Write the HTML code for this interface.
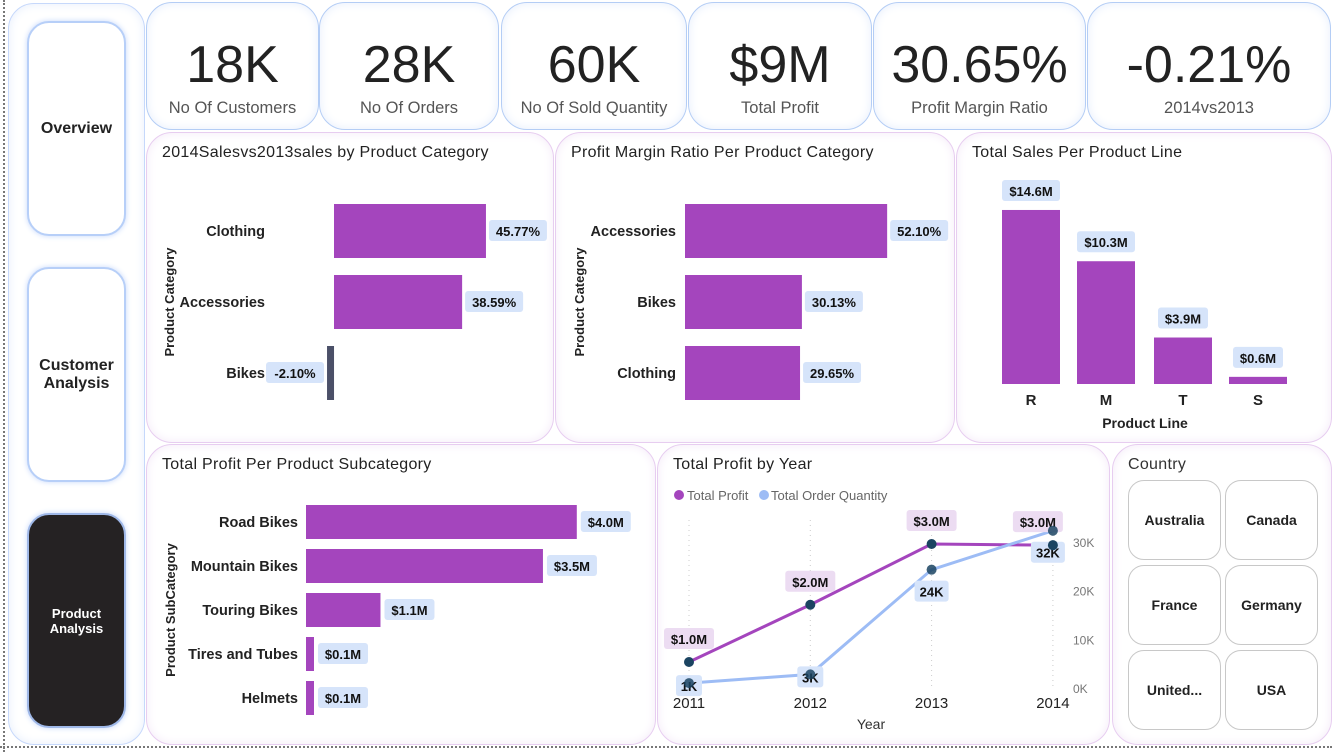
<!DOCTYPE html>
<html><head><meta charset="utf-8">
<style>
body{margin:0;width:1332px;height:752px;background:#fff;position:relative;overflow:hidden;font-family:"Liberation Sans","DejaVu Sans",sans-serif;}
.card{position:absolute;box-sizing:border-box;border-radius:26px;background:#fff;}
.kpi{border:1px solid #b4cdf5;box-shadow:inset 0 0 10px #e6eefc;text-align:center;}
.kpi .v{position:absolute;left:0;right:0;top:32px;font-size:52px;color:#222;line-height:60px;}
.kpi .l{position:absolute;left:0;right:0;top:96px;font-size:16.5px;color:#555;}
.vis{border:1px solid #e7cdf0;box-shadow:inset 0 0 10px #f4eaf8;}
.title{position:absolute;left:15px;top:11px;font-size:16px;color:#222;letter-spacing:0.3px;}
.nav{position:absolute;left:27px;width:99px;height:215px;box-sizing:border-box;border-radius:22px;border:2px solid #b7cff8;box-shadow:0 0 6px #c6d8fb;background:#fff;display:flex;align-items:center;justify-content:center;text-align:center;font-weight:bold;font-size:16px;color:#222;}
.tile{position:absolute;width:93px;height:80px;box-sizing:border-box;border:1px solid #c8c8c8;border-radius:16px;display:flex;align-items:center;justify-content:center;font-weight:bold;font-size:14px;color:#222;}
svg{position:absolute;left:0;top:0}
</style></head><body>
<div style="position:absolute;left:3px;top:0;height:752px;border-left:2px dotted #777"></div>
<div style="position:absolute;left:0;top:746px;width:1332px;border-top:2px dotted #777"></div>
<div class="card" style="left:8px;top:3px;width:137px;height:742px;border:1px solid #c6d8fb;box-shadow:inset 0 0 10px #e6eefc"></div>
<div class="nav" style="top:21px">Overview</div>
<div class="nav" style="top:267px">Customer<br>Analysis</div>
<div class="nav" style="top:513px;background:#252223;color:#fff;font-size:13px;border-color:#9fb8e8">Product<br>Analysis</div>

<div class="card kpi" style="left:146px;top:2px;width:173px;height:128px"><div class="v">18K</div><div class="l">No Of Customers</div></div>
<div class="card kpi" style="left:319px;top:2px;width:180px;height:128px"><div class="v">28K</div><div class="l">No Of Orders</div></div>
<div class="card kpi" style="left:501px;top:2px;width:186px;height:128px"><div class="v">60K</div><div class="l">No Of Sold Quantity</div></div>
<div class="card kpi" style="left:688px;top:2px;width:184px;height:128px"><div class="v">$9M</div><div class="l">Total Profit</div></div>
<div class="card kpi" style="left:873px;top:2px;width:213px;height:128px"><div class="v">30.65%</div><div class="l">Profit Margin Ratio</div></div>
<div class="card kpi" style="left:1087px;top:2px;width:244px;height:128px"><div class="v">-0.21%</div><div class="l">2014vs2013</div></div>

<div class="card vis" style="left:146px;top:132px;width:408px;height:311px"><div class="title">2014Salesvs2013sales by Product Category</div></div>
<div class="card vis" style="left:555px;top:132px;width:400px;height:311px"><div class="title">Profit Margin Ratio Per Product Category</div></div>
<div class="card vis" style="left:956px;top:132px;width:376px;height:311px"><div class="title">Total Sales Per Product Line</div></div>
<div class="card vis" style="left:146px;top:444px;width:510px;height:301px"><div class="title">Total Profit Per Product Subcategory</div></div>
<div class="card vis" style="left:657px;top:444px;width:453px;height:301px"><div class="title">Total Profit by Year</div></div>
<div class="card vis" style="left:1112px;top:444px;width:220px;height:301px"><div class="title" style="color:#333">Country</div></div>
<div class="tile" style="left:1128px;top:480px">Australia</div>
<div class="tile" style="left:1225px;top:480px">Canada</div>
<div class="tile" style="left:1128px;top:565px">France</div>
<div class="tile" style="left:1225px;top:565px">Germany</div>
<div class="tile" style="left:1128px;top:650px">United...</div>
<div class="tile" style="left:1225px;top:650px">USA</div>

<svg id="s" width="1332" height="752"></svg>
<script>
const growthCats=["Clothing","Accessories","Bikes"];
const growthVals=[45.77,38.59,-2.10];
const marginCats=["Accessories","Bikes","Clothing"];
const marginVals=[52.10,30.13,29.65];
const lineCats=["R","M","T","S"];
const lineVals=[14.6,10.3,3.9,0.6];
const subCats=["Road Bikes","Mountain Bikes","Touring Bikes","Tires and Tubes","Helmets"];
const subVals=[4.0,3.5,1.1,0.1,0.1];
const subLabels=["$4.0M","$3.5M","$1.1M","$0.1M","$0.1M"];
const years=["2011","2012","2013","2014"];
const profitVals=[1.0,1.97,3.0,2.98];
const qtyVals=[1.0,2.8,24.3,32.3];
const qtyLabels=["1K","3K","24K","32K"];
const qtyTicks=[0,10,20,30];

const s=document.getElementById('s');const NS="http://www.w3.org/2000/svg";
function el(t,a,txt){const e=document.createElementNS(NS,t);for(const k in a)e.setAttribute(k,a[k]);if(txt!=null)e.textContent=txt;s.appendChild(e);return e;}
const P="#a445bd",LB="#d6e4fa",PB="#ecdcf2",F='"Liberation Sans",sans-serif';
function label(x,y,t,bg,anchor){const w=t.length*8+10;let lx=anchor==="start"?x:x-w/2;
 const r=el('rect',{x:lx,y:y-11,width:w,height:21,rx:3,fill:bg});
 const e=el('text',{x:lx+w/2,y:y+5,'text-anchor':'middle','font-size':13,'font-weight':'bold',fill:'#111','font-family':F},t);}
function hbar(cats,vals,x0,scale,ys,h,fmt,axisTitle,ax,ay,labelRight){
 cats.forEach((c,i)=>{const v=vals[i];const y=ys[i];const x1=x0+v*scale;const neg=v<0;
  const r=el('rect',{x:Math.min(x0,x1),y:y,width:Math.max(Math.abs(x1-x0),neg?7:2),height:h,fill:neg?'#4b5068':P});
  
  const t=el('text',{x:labelRight,y:y+h/2+5,'text-anchor':'end','font-size':14.5,'font-weight':'bold',fill:'#222','font-family':F},c);
  
  if(neg)label(x1-5-56,y+h/2,fmt(v),LB,'start');else label(Math.max(x1,x0)+3,y+h/2,fmt(v),LB,'start');});
 const a=el('text',{x:ax,y:ay,'text-anchor':'middle','font-size':13,'font-weight':'bold',fill:'#222','font-family':F,transform:`rotate(-90 ${ax} ${ay})`},axisTitle);
 }
const pct=v=>v.toFixed(2)+'%';
hbar(growthCats,growthVals,334,3.32,[204,275,346],54,pct,"Product Category",174,302,265);
hbar(marginCats,marginVals,685,3.88,[204,275,346],54,pct,"Product Category",584,302,676);
// subcategory
(function(){const x0=306,sc=67.7,ys=[505,549,593,637,681];
 subCats.forEach((c,i)=>{const y=ys[i],w=subVals[i]*sc;
  const r=el('rect',{x:x0,y:y,width:Math.max(w,8),height:34,fill:P});
  const t=el('text',{x:x0-8,y:y+22,'text-anchor':'end','font-size':14.5,'font-weight':'bold',fill:'#222','font-family':F},c);
  label(x0+Math.max(w,8)+4,y+17,subLabels[i],LB,'start');});
 const a=el('text',{x:175,y:610,'text-anchor':'middle','font-size':13,'font-weight':'bold',fill:'#222','font-family':F,transform:'rotate(-90 175 610)'},"Product SubCategory");
 })();
// product line
(function(){const base=384,sc=11.92,xs=[1002,1077,1154,1229],w=58;
 lineCats.forEach((c,i)=>{const h=lineVals[i]*sc;
  const r=el('rect',{x:xs[i],y:base-h,width:w,height:h,fill:P});
  label(xs[i]+w/2,base-h-19,'$'+lineVals[i].toFixed(1)+'M',LB,'middle');
  const t=el('text',{x:xs[i]+w/2,y:405,'text-anchor':'middle','font-size':15,'font-weight':'bold',fill:'#222','font-family':F},c);});
 const a=el('text',{x:1145,y:428,'text-anchor':'middle','font-size':14,'font-weight':'bold',fill:'#222','font-family':F},"Product Line");})();
// line chart
(function(){const xs=i=>689+i*121.3;const yP=v=>721-v*59;const yQ=v=>688-v*4.87;
 let e=el('circle',{cx:679,cy:495,r:5,fill:P});
 e=el('text',{x:687,y:500,'font-size':13,fill:'#666','font-family':F},"Total Profit");
 e=el('circle',{cx:764,cy:495,r:5,fill:'#9dbcf5'});
 e=el('text',{x:771,y:500,'font-size':13,fill:'#666','font-family':F},"Total Order Quantity");
 years.forEach((y,i)=>{e=el('line',{x1:xs(i),x2:xs(i),y1:520,y2:688,stroke:'#ccc','stroke-dasharray':'1 4'});
  e=el('text',{x:xs(i),y:708,'text-anchor':'middle','font-size':15,fill:'#222','font-family':F},y);});
 qtyTicks.forEach(t=>{e=el('text',{x:1073,y:yQ(t)+5,'font-size':12,fill:'#777','font-family':F},t+'K');});
 e=el('text',{x:871,y:729,'text-anchor':'middle','font-size':14,fill:'#333','font-family':F},"Year");
 e=el('polyline',{points:profitVals.map((v,i)=>xs(i)+','+yP(v)).join(' '),fill:'none',stroke:P,'stroke-width':3});
 e=el('polyline',{points:qtyVals.map((v,i)=>xs(i)+','+yQ(v)).join(' '),fill:'none',stroke:'#9dbcf5','stroke-width':3});
 profitVals.forEach((v,i)=>{label(xs(i)+(i==3?-15:0),yP(v)-23,'$'+v.toFixed(1)+'M',PB,'middle');});
 qtyVals.forEach((v,i)=>{const dy=i>=2?22:3;label(xs(i)+(i==3?-5:0),yQ(v)+dy,qtyLabels[i],LB,'middle');});
 profitVals.forEach((v,i)=>{e=el('circle',{cx:xs(i),cy:yP(v),r:5,fill:'#1b4461'});});
 qtyVals.forEach((v,i)=>{e=el('circle',{cx:xs(i),cy:yQ(v),r:5,fill:'#1b4461','fill-opacity':0.85});});
})();
</script>
</body></html>
